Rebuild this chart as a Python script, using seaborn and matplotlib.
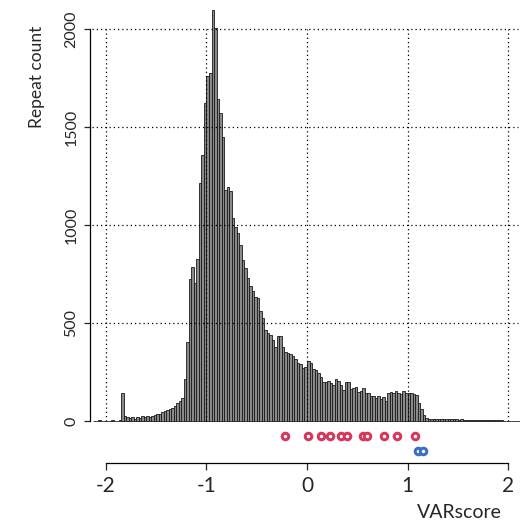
import numpy as np
import pandas as pd
import matplotlib
matplotlib.use("Agg")
import matplotlib.pyplot as plt
import seaborn as sns

# histogram of VARscore, bins of 0.025 starting at -2.125 (counts)
bin_start = -2.125
bin_width = 0.025
repeat_counts = [
    0, 0, 3, 0, 0,
    1, 0, 4, 0, 2, 3, 143, 25, 22, 15,
    18, 12, 20, 16, 24, 18, 25, 20, 28, 30,
    34, 38, 44, 50, 55, 60, 66, 78, 90, 102,
    120, 217, 404, 724, 786, 707, 827, 1214, 1357, 1622,
    1760, 1776, 2097, 2005, 1643, 1571, 1449, 1180, 1194, 1175,
    1036, 990, 959, 898, 821, 781, 730, 690, 665, 635,
    628, 560, 528, 464, 449, 440, 413, 380, 434, 436,
    379, 354, 345, 340, 330, 318, 298, 292, 270, 275,
    308, 294, 264, 262, 243, 226, 200, 200, 206, 192,
    184, 212, 206, 184, 160, 198, 197, 162, 167, 172,
    150, 155, 167, 145, 141, 128, 128, 116, 128, 111,
    125, 104, 141, 150, 145, 155, 145, 138, 155, 145,
    141, 145, 140, 135, 90, 60, 30, 16, 12, 11,
    12, 10, 11, 10, 9, 10, 9, 8, 9, 8,
    7, 8, 7, 6, 7, 6, 6, 5, 6, 5,
    4, 5, 4, 4, 3, 4, 3, 3, 2, 2,
    1, 0, 0, 0, 0,
]

red_scores = [-0.22, 0.01, 0.135, 0.23, 0.34, 0.40, 0.56, 0.60, 0.77, 0.90, 1.07]
blue_scores = [1.10, 1.15]

x_ticks = [-2, -1, 0, 1, 2]
x_tick_labels = ["-2", "-1", "0", "1", "2"]
y_ticks = [0, 500, 1000, 1500, 2000]
y_tick_labels = ["0", "500", "1000", "1500", "2000"]

sns.set_style("white")
plt.rcParams["font.family"] = ["Lato", "DejaVu Sans"]

n_bins = len(repeat_counts)
edges = bin_start + bin_width * np.arange(n_bins + 1)
hist_df = pd.DataFrame({
    "score": (edges[:-1] + edges[1:]) / 2,
    "count": np.array(repeat_counts, dtype=float),
})

W, H = 520, 522
fig = plt.figure(figsize=(W / 100, H / 100), dpi=100)
ax = fig.add_axes([90 / W, 59 / H, 430 / W, 463 / H])

sns.histplot(data=hist_df, x="score", weights="count", bins=n_bins,
             binrange=(edges[0], edges[-1]), ax=ax,
             color="#8a8a8a", edgecolor="#1a1a1a", linewidth=0.6, alpha=1)

# dotted grid drawn over the bars
dots = (0, (1, 2.4))
ax.hlines(y_ticks[1:], -2.14, 2.1, colors="black", linestyles=dots, linewidth=0.9, zorder=5)
ax.vlines(x_ticks, 0, 2000, colors="black", linestyles=dots, linewidth=0.9, zorder=5)

# marker rows below the baseline
red_level, blue_level = -77, -153
sns.scatterplot(x=red_scores, y=[red_level] * len(red_scores), ax=ax, s=22,
                color="white", edgecolor="#d6385c", linewidth=2.2, zorder=6)
sns.scatterplot(x=blue_scores, y=[blue_level] * len(blue_scores), ax=ax, s=22,
                color="white", edgecolor="#3b6fc6", linewidth=2.2, zorder=6)

ax.set_xlim(-2.159, 2.119)
ax.set_ylim(-214.4, 2149.6)

ax.set_xticks(x_ticks)
ax.set_xticklabels(x_tick_labels)
ax.set_yticks(y_ticks)
ax.set_yticklabels(y_tick_labels, rotation=90, va="center")
ax.tick_params(axis="x", length=5, width=0.9, pad=4, labelsize=15, bottom=True)
ax.tick_params(axis="y", length=4.3, width=0.9, pad=4, labelsize=11.5, left=True)

for side in ["top", "right"]:
    ax.spines[side].set_visible(False)
ax.spines["left"].set_bounds(0, 2000)
ax.spines["bottom"].set_bounds(-2, 2)
for side in ["left", "bottom"]:
    ax.spines[side].set_color("black")
    ax.spines[side].set_linewidth(0.9)

ax.set_xlabel("")
ax.set_ylabel("")
fig.text(37 / W, 1 - 77 / H, "Repeat count", rotation=90, ha="center", va="center", fontsize=12.5)
fig.text(459 / W, 1 - 512 / H, "VARscore", ha="center", va="center", fontsize=14)

fig.savefig("out.png", dpi=100)
